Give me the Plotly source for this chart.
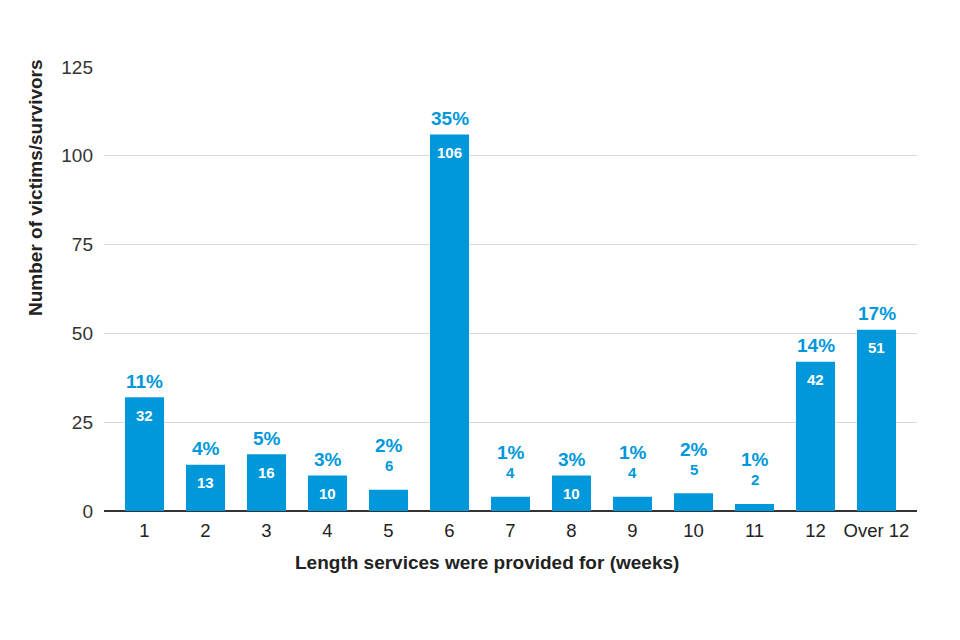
import plotly.graph_objects as go

categories = ["1", "2", "3", "4", "5", "6", "7", "8", "9", "10", "11", "12", "Over 12"]
values = [32, 13, 16, 10, 6, 106, 4, 10, 4, 5, 2, 42, 51]
percent_labels = ["11%", "4%", "5%", "3%", "2%", "35%", "1%", "3%", "1%", "2%", "1%", "14%", "17%"]

BLUE = "#0098DA"
FONT = "Liberation Sans, Arial, sans-serif"

# page body has an 8px margin; compensate so the plot lands where the reference has it
OFF = 8
W, H = 960 - OFF, 640 - OFF
L, R, T, B = 104 - OFF, 43, 67 - OFF, 129
plot_w = W - L - R
plot_h = H - T - B
XPAD = 0.664  # axis space from the plot edge to the first/last category centre (category units)

fig = go.Figure()
fig.add_trace(go.Bar(
    x=categories, y=values, marker=dict(color=BLUE, line=dict(width=0)),
    hoverinfo="x+y",
))

annotations = []
INSIDE_MIN = 10
for i, (v, p) in enumerate(zip(values, percent_labels)):
    if v >= INSIDE_MIN:
        annotations.append(dict(x=i, y=v, xref="x", yref="y", text="<b>%d</b>" % v,
                                showarrow=False, yanchor="middle", yshift=-18,
                                font=dict(family=FONT, size=15, color="white")))
        annotations.append(dict(x=i, y=v, xref="x", yref="y", text="<b>%s</b>" % p,
                                showarrow=False, yanchor="middle", yshift=16,
                                font=dict(family=FONT, size=19, color=BLUE)))
    else:
        annotations.append(dict(x=i, y=v, xref="x", yref="y", text="<b>%d</b>" % v,
                                showarrow=False, yanchor="middle", yshift=24,
                                font=dict(family=FONT, size=15, color=BLUE)))
        annotations.append(dict(x=i, y=v, xref="x", yref="y", text="<b>%s</b>" % p,
                                showarrow=False, yanchor="middle", yshift=44,
                                font=dict(family=FONT, size=19, color=BLUE)))

annotations.append(dict(text="<b>Number of victims/survivors</b>", textangle=-90,
                        xref="paper", yref="paper",
                        x=(35 - 104) / plot_w, y=(511 - 188) / plot_h,
                        xanchor="center", yanchor="middle", showarrow=False,
                        font=dict(family=FONT, size=19, color="#222222")))
annotations.append(dict(text="<b>Length services were provided for (weeks)</b>",
                        xref="paper", yref="paper",
                        x=(487 - 104) / plot_w, y=-(562 - 511) / plot_h,
                        xanchor="center", yanchor="middle", showarrow=False,
                        font=dict(family=FONT, size=19, color="#222222")))

fig.update_layout(
    width=W, height=H,
    margin=dict(l=L, r=R, t=T, b=B, autoexpand=False),
    paper_bgcolor="white", plot_bgcolor="white",
    bargap=0.36,
    showlegend=False,
    annotations=annotations,
    font=dict(family=FONT, size=18, color="#222222"),
    xaxis=dict(type="category", showgrid=False, ticks="", tickfont=dict(size=18.5, color="#222222"),
               showline=False, zeroline=False, ticklabelstandoff=6,
               range=[-XPAD, len(categories) - 1 + XPAD]),
    yaxis=dict(range=[0, 125], tickvals=[0, 25, 50, 75, 100, 125], showgrid=True,
               gridcolor="#D9D9D9", gridwidth=1, zeroline=True, zerolinecolor="#333333",
               zerolinewidth=1.5, tickfont=dict(size=19, color="#333333"), ticks="",
               ticklabelstandoff=10),
)

fig.write_html("out.html")
